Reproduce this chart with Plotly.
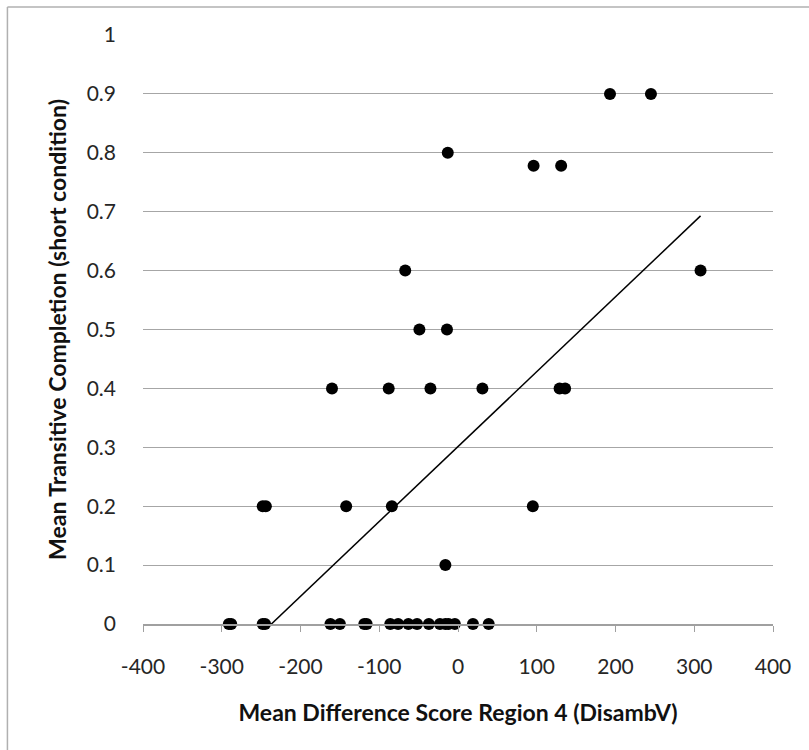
import numpy as np
import plotly.graph_objects as go

# Data
diff_score = [193, 245,
              -13,
              96, 131,
              -67, 308,
              -49, -14,
              -160, -88, -35, 31, 129, 136,
              -248, -244, -142, -84, 95,
              -16,
              -291, -288, -248, -245, -162, -150, -119, -116, -86, -76,
              -63, -52, -37, -23, -16, -12, -4, 19, 39]
completion = [0.9, 0.9,
              0.8,
              0.778, 0.778,
              0.6, 0.6,
              0.5, 0.5,
              0.4, 0.4, 0.4, 0.4, 0.4, 0.4,
              0.2, 0.2, 0.2, 0.2, 0.2,
              0.1,
              0, 0, 0, 0, 0, 0, 0, 0, 0, 0,
              0, 0, 0, 0, 0, 0, 0, 0, 0]
x_ticks = [-400, -300, -200, -100, 0, 100, 200, 300, 400]
y_ticks = [0, 0.1, 0.2, 0.3, 0.4, 0.5, 0.6, 0.7, 0.8, 0.9, 1]
x_title = "Mean Difference Score Region 4 (DisambV)"
y_title = "Mean Transitive Completion (short condition)"

# Linear trendline (least squares), drawn across the data range
xs = np.array(diff_score, dtype=float)
ys = np.array(completion, dtype=float)
slope, intercept = np.polyfit(xs, ys, 1)
tx = np.array([xs.min(), xs.max()])
ty = slope * tx + intercept

W, H = 809, 750
L, R, T, B = 142.7, 773.3, 35, 624
FONT = "Lato, 'Open Sans', sans-serif"
TICK_SIZE = 21
TITLE_SIZE = 23

fig = go.Figure()
fig.add_trace(go.Scatter(x=tx, y=ty, mode="lines",
                         line=dict(color="black", width=1.5),
                         showlegend=False, hoverinfo="skip"))
fig.add_trace(go.Scatter(x=diff_score, y=completion, mode="markers",
                         marker=dict(color="black", size=12),
                         cliponaxis=False, showlegend=False))

def px_x(p):
    return (p - L) / (R - L)

def px_y(p):
    return (B - p) / (B - T)

# outer chart border (top and left visible)
fig.add_shape(type="line", xref="paper", yref="paper",
              x0=px_x(7), x1=px_x(830), y0=px_y(7), y1=px_y(7),
              line=dict(color="#b0b0b0", width=1.5))
fig.add_shape(type="line", xref="paper", yref="paper",
              x0=px_x(7), x1=px_x(7), y0=px_y(7), y1=px_y(780),
              line=dict(color="#b0b0b0", width=1.5))

fig.update_layout(
    width=W, height=H,
    margin=dict(l=L, r=W - R, t=T, b=H - B, pad=0),
    paper_bgcolor="white", plot_bgcolor="white",
    font=dict(family=FONT, size=TICK_SIZE, color="#262626"),
    xaxis=dict(range=[-400, 400], tickvals=x_ticks, ticktext=[str(v) for v in x_ticks],
               showgrid=False, zeroline=False,
               showline=True, linecolor="#a0a0a0", linewidth=1.5,
               ticks="outside", ticklen=6, tickcolor="#a0a0a0", tickwidth=1,
               ticklabelstandoff=17,
               tickfont=dict(size=TICK_SIZE, family=FONT, color="#262626"),
               title=dict(text="<b>" + x_title + "</b>", standoff=28,
                          font=dict(size=TITLE_SIZE, family=FONT, color="#111111"))),
    yaxis=dict(range=[0, 1], tickvals=y_ticks, ticktext=[str(v) for v in y_ticks],
               showgrid=True, gridcolor="#a6a6a6", gridwidth=1.2,
               zeroline=False, showline=False, ticks="", ticklen=0,
               ticklabelstandoff=26,
               tickfont=dict(size=TICK_SIZE, family=FONT, color="#262626"),
               title=dict(text="<b>" + y_title + "</b>", standoff=13,
                          font=dict(size=TITLE_SIZE, family=FONT, color="#111111"))),
)

fig.write_html("out.html")
